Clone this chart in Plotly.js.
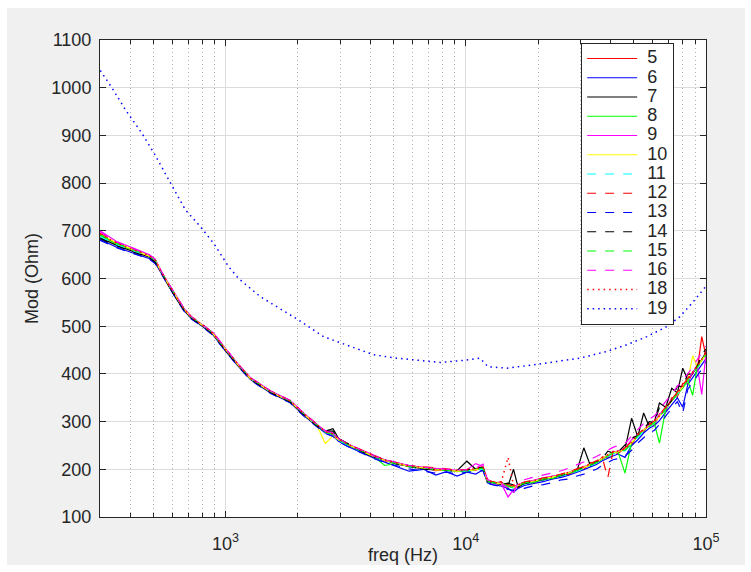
<!DOCTYPE html>
<html>
<head>
<meta charset="utf-8">
<script src="https://cdn.plot.ly/plotly-3.0.1.min.js"></script>
<style>
html,body{margin:0;padding:0;background:#ffffff;}
#chart{position:absolute;left:7px;top:8px;width:738px;height:557px;}
</style>
</head>
<body>
<div id="chart"></div>
<script>
// Frequencies (Hz) shared by series 5..18
const FREQ = [300,350,420,480,510,540,580,620,670,720,
  800,890,1000,1130,1270,1540,1860,2110,2400,2600,
  2800,2950,3300,3700,4130,4600,5170,5800,6670,7500,
  8300,9200,10100,11000,11800,12300,13000,14000,15000,15800,
  16500,17500,19000,21000,23000,25000,27000,29000,31000,33000,
  35000,37000,39000,41000,43000,46000,49000,52000,55000,58000,
  61000,64000,68000,72000,76000,80000,84000,88000,92000,96000,100000];

const S5 = [692,674,658,648,637,613,587,563,536,519,
  503,485,451,419,391,363,343,317,293,279,
  273,263,250,238,228,218,214,205,204,197,
  200,195,199,198,204,177,170,174,163,168,
  162,172,171,181,180,190,189,201,200,214,
  211,226,224,238,233,244,250,275,278,296,
  292,316,322,350,352,380,379,405,408,478,438];
const S6 = [682,666,652,642,632,610,585,560,533,516,
  500,481,448,416,388,360,340,313,290,276,
  270,259,246,234,224,215,205,196,200,188,
  195,186,194,190,199,172,168,165,160,152,
  160,166,170,174,180,183,188,193,199,205,
  210,218,224,228,232,225,250,262,276,286,
  292,302,320,336,350,330,378,392,405,420,432];
const S7 = [686,670,655,645,635,611,584,560,534,517,
  501,482,449,417,389,361,341,315,291,280,
  285,265,250,236,226,220,211,207,201,200,
  199,197,217,200,204,174,171,169,166,200,
  163,171,175,177,185,186,193,196,245,208,
  217,221,230,233,238,242,307,268,318,290,
  300,339,330,370,360,412,388,400,418,430,445];
const S8 = [690,673,658,649,639,614,588,563,537,519,
  503,484,452,419,391,363,343,317,293,279,
  274,262,249,238,227,208,213,206,203,200,
  197,196,194,200,201,176,173,171,168,163,
  166,170,172,180,181,188,192,197,205,208,
  214,221,229,234,237,192,256,270,281,292,
  296,255,327,344,358,370,386,355,415,428,441];
const S9 = [700,678,662,650,640,615,589,565,538,520,
  504,486,453,420,392,364,344,318,294,281,
  276,264,251,240,229,220,214,208,204,201,
  200,198,199,212,206,178,169,172,142,158,
  168,172,177,182,186,188,194,199,206,210,
  216,223,229,236,238,244,262,272,283,293,
  301,314,330,346,361,374,387,402,416,357,443];
const S10 = [694,675,659,647,638,613,587,562,536,518,
  502,483,451,418,390,362,342,316,292,254,
  270,262,250,238,227,219,212,206,203,199,
  198,196,197,199,203,175,172,170,166,161,
  166,171,175,179,184,188,193,199,204,210,
  215,223,229,235,237,241,256,271,283,291,
  299,311,329,344,359,373,386,438,415,429,441];
const S11 = [688,671,656,646,636,612,586,562,535,518,
  502,483,450,418,390,362,342,316,292,278,
  273,261,248,237,226,218,211,205,201,198,
  197,195,196,198,201,174,171,169,165,160,
  164,169,173,177,182,186,191,196,202,208,
  213,221,227,232,235,239,253,268,280,289,
  297,309,327,342,357,371,384,398,413,427,439];
const S12 = [695,676,660,649,639,614,588,564,537,520,
  504,485,452,420,392,364,344,318,294,280,
  275,264,251,240,229,221,213,208,205,203,
  201,199,200,202,205,178,174,172,168,164,
  168,173,177,181,186,190,195,201,206,212,
  218,225,182,237,240,245,258,273,285,294,
  302,314,332,347,362,376,390,404,418,432,447];
const S13 = [680,665,651,641,631,609,584,559,532,515,
  499,480,447,415,387,359,339,312,289,275,
  269,258,245,233,223,214,208,201,196,192,
  194,190,194,195,197,171,167,164,158,156,
  156,160,165,168,172,178,180,186,190,196,
  200,208,214,220,222,228,240,255,266,276,
  282,294,312,328,342,318,368,382,396,410,425];
const S14 = [684,669,654,644,634,611,585,561,534,517,
  501,482,449,417,389,361,341,315,291,281,
  280,264,250,237,226,220,211,206,200,199,
  198,196,198,205,203,175,172,168,171,168,
  164,170,174,178,183,187,192,198,203,209,
  215,222,238,234,236,250,265,271,283,300,
  298,330,329,344,375,373,400,399,416,440,452];
const S15 = [692,674,659,648,639,614,588,563,537,519,
  503,484,451,419,391,363,343,317,293,278,
  273,262,249,238,227,218,212,206,203,199,
  198,197,197,199,203,176,172,170,165,161,
  166,171,175,179,183,188,192,198,202,210,
  214,222,228,234,236,240,254,270,282,290,
  298,310,328,343,358,372,385,399,414,428,440];
const S16 = [698,677,661,650,640,615,589,564,538,520,
  504,486,453,420,392,364,344,318,294,280,
  276,264,251,239,228,220,214,208,204,201,
  200,199,199,203,211,178,174,172,160,150,
  172,178,183,188,194,197,203,209,215,221,
  227,234,240,246,250,254,270,284,296,305,
  312,325,343,358,374,388,400,415,430,444,458];
const S18 = [693,675,659,648,638,613,587,563,536,519,
  503,484,451,419,391,363,343,317,293,279,
  274,263,250,239,228,219,213,207,204,200,
  199,198,199,201,204,177,173,171,225,166,
  167,172,176,180,185,189,194,200,205,211,
  216,224,230,236,238,243,257,272,284,292,
  300,312,330,345,360,374,387,401,416,430,444];

// Series 19 has its own frequency points
const FREQ19 = [301,337,386,449,507,589,680,785,897,1029,
  1132,1394,1636,2014,2558,3304,4131,5167,6667,7816,
  10090,11460,12380,14830,19110,23900,29870,38580,46740,56640,
  68560,77860,88400,100000];
const S19 = [1036,999,951,904,860,801,744,709,672,625,
  600,562,541,513,478,457,440,433,428,424,
  429,433,415,412,419,426,433,447,461,478,
  499,520,551,584];

const SERIES_NAMES = ['5','6','7','8','9','10','11','12','13','14','15','16','18','19'];
const SERIES_VALUES = [S5,S6,S7,S8,S9,S10,S11,S12,S13,S14,S15,S16,S18,S19];
const SERIES_X = [FREQ,FREQ,FREQ,FREQ,FREQ,FREQ,FREQ,FREQ,FREQ,FREQ,FREQ,FREQ,FREQ,FREQ19];
const COLORS = ['#ff0000','#0000ff','#000000','#00ff00','#ff00ff','#ffff00','#00ffff',
  '#ff0000','#0000ff','#000000','#00ff00','#ff00ff','#ff0000','#0000ff'];
const DASHES = ['solid','solid','solid','solid','solid','solid','dash',
  'dash','dash','dash','dash','dash','1.5px,4px','1.5px,4px'];

const X_TICK_VALUES = [1000,10000,100000];
const X_TICK_LABELS = ['10<sup>3</sup>','10<sup>4</sup>','10<sup>5</sup>'];
const X_DECADES = [100,1000,10000];
const MINOR_MULTIPLIERS = [2,3,4,5,6,7,8,9];
const Y_TICKS = [100,200,300,400,500,600,700,800,900,1000,1100];

const minorVals = [];
X_DECADES.forEach(d => MINOR_MULTIPLIERS.forEach(m => {
  const v = d*m; if (v >= 300 && v <= 100000) minorVals.push(v);
}));

const FONT = 'Liberation Sans, Arial, Helvetica, sans-serif';
const INK = '#262626';

const traces = SERIES_NAMES.map((n,i) => ({
  x: SERIES_X[i], y: SERIES_VALUES[i], type:'scatter', mode:'lines',
  name: '<span style="font-size:18px">\u00a0'+n+'</span>',
  line: {color: COLORS[i], width: (i>=12)?1.5:1.2, dash: DASHES[i]},
  hoverinfo:'skip'
}));

const layout = {
  width: 738, height: 557,
  paper_bgcolor:'#f0f0f0', plot_bgcolor:'#ffffff',
  margin:{l:93, r:39, t:32, b:48},
  font:{family:FONT, color:INK, size:18},
  showlegend:true,
  legend:{x:0.794, y:0.994, xanchor:'left', yanchor:'top',
    bgcolor:'#ffffff', bordercolor:INK, borderwidth:1,
    font:{family:FONT, size:12.5, color:INK}, itemwidth:50, tracegroupgap:0},
  xaxis:{type:'log', range:[Math.log10(300), 5], tickmode:'array',
    tickvals:X_TICK_VALUES, ticktext:X_TICK_LABELS,
    ticks:'inside', ticklen:6, tickcolor:INK, showline:true, linecolor:INK, linewidth:1,
    mirror:'ticks', showgrid:true, gridcolor:'#dcdcdc', zeroline:false,
    tickfont:{family:FONT, size:18, color:INK}, automargin:false, ticklabelstandoff:10,
    title:{text:'freq (Hz)', font:{family:FONT, size:18, color:INK}, standoff:8},
    minor:{tickmode:'array', tickvals:minorVals, ticks:'inside', ticklen:4, tickcolor:INK,
      showgrid:true, gridcolor:'#b0b0b0', griddash:'1px,3px', gridwidth:1}},
  yaxis:{range:[100,1100], tickmode:'array', tickvals:Y_TICKS,
    ticks:'inside', ticklen:6, tickcolor:INK, showline:true, linecolor:INK, linewidth:1,
    mirror:'ticks', showgrid:true, gridcolor:'#dcdcdc', zeroline:false,
    tickfont:{family:FONT, size:18, color:INK}, automargin:false, ticklabelstandoff:4,
    title:{text:'Mod (Ohm)', font:{family:FONT, size:18, color:INK}, standoff:8}}
};

Plotly.newPlot('chart', traces, layout, {displayModeBar:false, staticPlot:true});
</script>
</body>
</html>
